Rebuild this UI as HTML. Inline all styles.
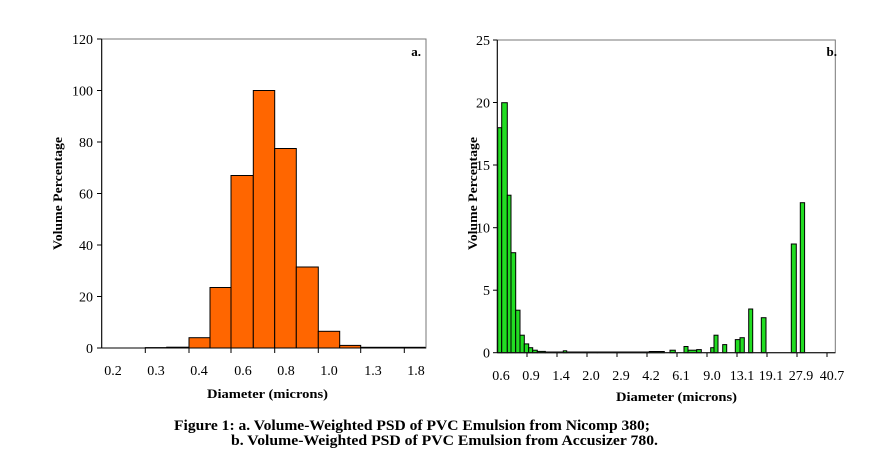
<!DOCTYPE html>
<html><head><style>body{margin:0;background:#fff}svg{display:block}</style></head><body>
<svg width="870" height="473" viewBox="0 0 870 473" xmlns="http://www.w3.org/2000/svg" font-family="Liberation Serif, serif">
<rect width="870" height="473" fill="#fff"/>
<!-- Chart a -->
<g stroke="#000" stroke-width="1" fill="#ff6600">
<rect x="145.3" y="347.6" width="21.4" height="0.4" fill="#000"/>
<rect x="166.7" y="347.2" width="22.3" height="0.8"/>
<rect x="189" y="337.7" width="21" height="10.3"/>
<rect x="210" y="287.5" width="21" height="60.5"/>
<rect x="231" y="175.5" width="22.3" height="172.5"/>
<rect x="253.3" y="90.5" width="21.4" height="257.5"/>
<rect x="274.7" y="148.5" width="21.6" height="199.5"/>
<rect x="296.3" y="267" width="22" height="81"/>
<rect x="318.3" y="331.3" width="21.4" height="16.7"/>
<rect x="339.7" y="345.4" width="21" height="2.6"/>
<rect x="360.7" y="347.3" width="65" height="0.7"/>
</g>
<rect x="101.7" y="39" width="324.3" height="309" fill="none" stroke="#777" stroke-width="1"/>
<line x1="101.7" y1="39" x2="101.7" y2="348" stroke="#000"/>
<line x1="101.7" y1="348" x2="426" y2="348" stroke="#000"/>
<g stroke="#000">
<line x1="97" y1="39" x2="101.7" y2="39"/><line x1="97" y1="90.5" x2="101.7" y2="90.5"/><line x1="97" y1="142" x2="101.7" y2="142"/><line x1="97" y1="193.5" x2="101.7" y2="193.5"/><line x1="97" y1="245" x2="101.7" y2="245"/><line x1="97" y1="296.5" x2="101.7" y2="296.5"/><line x1="97" y1="348" x2="101.7" y2="348"/>
<line x1="145.3" y1="348" x2="145.3" y2="353"/><line x1="189" y1="348" x2="189" y2="353"/><line x1="231" y1="348" x2="231" y2="353"/><line x1="274.7" y1="348" x2="274.7" y2="353"/><line x1="318.3" y1="348" x2="318.3" y2="353"/><line x1="360.7" y1="348" x2="360.7" y2="353"/><line x1="404.3" y1="348" x2="404.3" y2="353"/>
</g>
<g font-size="14" text-anchor="end">
<text x="93" y="44">120</text><text x="93" y="95.5">100</text><text x="93" y="147">80</text><text x="93" y="198.5">60</text><text x="93" y="250">40</text><text x="93" y="301.5">20</text><text x="93" y="353">0</text>
</g>
<g font-size="14" text-anchor="middle">
<text x="113" y="375">0.2</text><text x="156" y="375">0.3</text><text x="199" y="375">0.4</text><text x="243" y="375">0.6</text><text x="286" y="375">0.8</text><text x="329" y="375">1.0</text><text x="373" y="375">1.3</text><text x="416" y="375">1.8</text>
</g>
<text x="207" y="398" font-size="13" font-weight="bold" textLength="121" lengthAdjust="spacingAndGlyphs">Diameter (microns)</text>
<text transform="translate(62,250) rotate(-90)" font-size="13" font-weight="bold" textLength="113" lengthAdjust="spacingAndGlyphs">Volume Percentage</text>
<text x="421" y="56" font-size="13" font-weight="bold" text-anchor="end">a.</text>

<!-- Chart b -->
<g stroke="#000" stroke-width="1" fill="#22dd22">
<rect x="497.7" y="127.7" width="4" height="225"/>
<rect x="501.7" y="102.7" width="5.6" height="250"/>
<rect x="507.3" y="195.2" width="3.7" height="157.5"/>
<rect x="511" y="252.7" width="4.7" height="100"/>
<rect x="515.7" y="310.2" width="4.3" height="42.5"/>
<rect x="520" y="335.2" width="4.3" height="17.5"/>
<rect x="524.3" y="343.9" width="4.4" height="8.8"/>
<rect x="528.7" y="347.7" width="4" height="5"/>
<rect x="532.7" y="350.2" width="4.6" height="2.5"/>
<rect x="537.3" y="351.4" width="8" height="1.3"/>
<rect x="545.3" y="352" width="52" height="0.7"/>
<rect x="563.3" y="350.8" width="3.4" height="1.9"/>
<rect x="597.3" y="352" width="52" height="0.7"/>
<rect x="649.3" y="351.5" width="15" height="1.2"/>
<rect x="670" y="350.2" width="5.3" height="2.5"/>
<rect x="684" y="346.5" width="4" height="6.2"/>
<rect x="688" y="350.2" width="8.7" height="2.5"/>
<rect x="696.7" y="349.6" width="4.6" height="3.1"/>
<rect x="710.7" y="347.7" width="3.3" height="5"/>
<rect x="714" y="335.2" width="4" height="17.5"/>
<rect x="722.7" y="344.6" width="4" height="8.1"/>
<rect x="735.3" y="339.6" width="4.7" height="13.1"/>
<rect x="740" y="337.7" width="4.3" height="15"/>
<rect x="748.7" y="309" width="4" height="43.7"/>
<rect x="761.3" y="317.7" width="4.7" height="35"/>
<rect x="791.3" y="244" width="5" height="108.7"/>
<rect x="800.3" y="202.7" width="4.3" height="150"/>
</g>
<rect x="497.3" y="40" width="338" height="312.7" fill="none" stroke="#777"/>
<line x1="497.3" y1="40" x2="497.3" y2="352.7" stroke="#000"/>
<line x1="497.3" y1="352.7" x2="835.3" y2="352.7" stroke="#000"/>
<g stroke="#000">
<line x1="493" y1="40" x2="497.3" y2="40"/><line x1="493" y1="102.5" x2="497.3" y2="102.5"/><line x1="493" y1="165" x2="497.3" y2="165"/><line x1="493" y1="227.7" x2="497.3" y2="227.7"/><line x1="493" y1="290.2" x2="497.3" y2="290.2"/><line x1="493" y1="352.7" x2="497.3" y2="352.7"/>
<line x1="527" y1="352.7" x2="527" y2="357"/><line x1="557" y1="352.7" x2="557" y2="357"/><line x1="587" y1="352.7" x2="587" y2="357"/><line x1="617" y1="352.7" x2="617" y2="357"/><line x1="647" y1="352.7" x2="647" y2="357"/><line x1="677" y1="352.7" x2="677" y2="357"/><line x1="707" y1="352.7" x2="707" y2="357"/><line x1="737" y1="352.7" x2="737" y2="357"/><line x1="767" y1="352.7" x2="767" y2="357"/><line x1="797" y1="352.7" x2="797" y2="357"/><line x1="827" y1="352.7" x2="827" y2="357"/>
</g>
<g font-size="14" text-anchor="end">
<text x="490" y="45">25</text><text x="490" y="107.5">20</text><text x="490" y="170">15</text><text x="490" y="232.7">10</text><text x="490" y="295.2">5</text><text x="490" y="357.7">0</text>
</g>
<g font-size="14" text-anchor="middle">
<text x="501" y="380">0.6</text><text x="531" y="380">0.9</text><text x="561" y="380">1.4</text><text x="591" y="380">2.0</text><text x="621" y="380">2.9</text><text x="651" y="380">4.2</text><text x="681" y="380">6.1</text><text x="712" y="380">9.0</text><text x="742" y="380">13.1</text><text x="771" y="380">19.1</text><text x="801" y="380">27.9</text><text x="832" y="380">40.7</text>
</g>
<text x="616" y="401" font-size="13" font-weight="bold" textLength="121" lengthAdjust="spacingAndGlyphs">Diameter (microns)</text>
<text transform="translate(477,250) rotate(-90)" font-size="13" font-weight="bold" textLength="113" lengthAdjust="spacingAndGlyphs">Volume Percentage</text>
<text x="837" y="56" font-size="13" font-weight="bold" text-anchor="end">b.</text>

<g font-size="15" font-weight="bold">
<text x="174" y="430" textLength="476" lengthAdjust="spacingAndGlyphs">Figure 1: a. Volume-Weighted PSD of PVC Emulsion from Nicomp 380;</text>
<text x="231" y="445" textLength="427" lengthAdjust="spacingAndGlyphs">b. Volume-Weighted PSD of PVC Emulsion from Accusizer 780.</text>
</g>
</svg>
</body></html>
